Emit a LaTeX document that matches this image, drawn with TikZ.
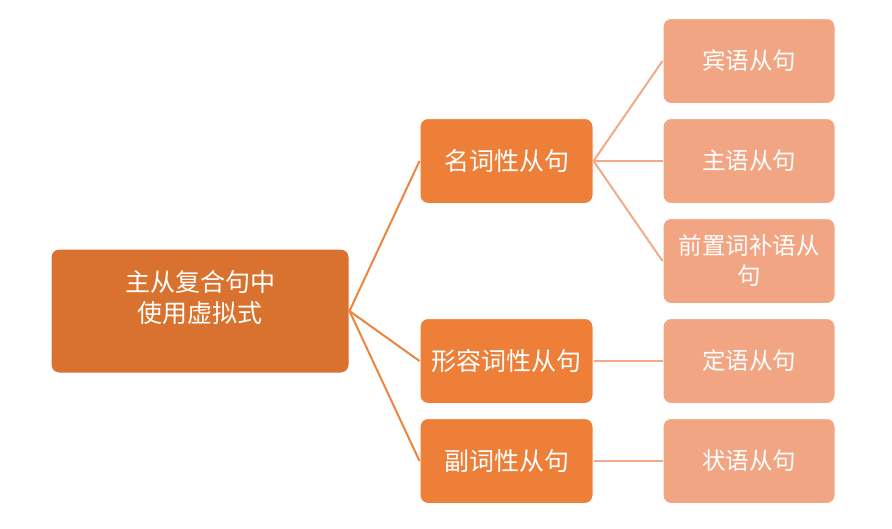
\documentclass[tikz,border=0pt]{standalone}
\usepackage{fontspec}
\newfontfamily\cjk{Noto Sans CJK SC}
\definecolor{rootc}{HTML}{D8722E}
\definecolor{midc}{HTML}{EE7F38}
\definecolor{leafc}{HTML}{F2A583}
\definecolor{lineA}{HTML}{EE8442}
\definecolor{lineB}{HTML}{F2AA88}
\begin{document}
\begin{tikzpicture}[x=1pt,y=-1pt,
  box/.style={draw=white, line width=1pt, rounded corners=8pt, text=white, align=center, inner sep=0pt, font=\cjk},
  rootbox/.style={box, fill=rootc, minimum width=298pt, minimum height=124pt},
  midbox/.style={box, fill=midc, minimum width=173pt, minimum height=85pt, font=\cjk\fontsize{25}{30}\selectfont},
  leafbox/.style={box, fill=leafc, minimum width=172pt, minimum height=85pt, font=\cjk\fontsize{23.5}{30}\selectfont},
  linkA/.style={draw=lineA, line width=2pt},
  linkB/.style={draw=lineB, line width=2pt}]
\useasboundingbox (0,0) rectangle (892,528);
\node[rootbox] (root) at (200,311) {};
\node[font=\cjk\fontsize{25}{31}\selectfont, text=white, align=center] (roottext) at (200,298) {主从复合句中\\使用虚拟式};
\node[midbox] (n1) at (506.5,161) {名词性从句};
\node[midbox] (n2) at (506.5,361) {形容词性从句};
\node[midbox] (n3) at (506.5,461) {副词性从句};
\node[leafbox] (l1) at (749,61) {宾语从句};
\node[leafbox] (l2) at (749,161) {主语从句};
\node[leafbox] (l3) at (749,261) {前置词补语从\\句};
\node[leafbox] (l4) at (749,361) {定语从句};
\node[leafbox] (l5) at (749,461) {状语从句};
\path[linkA] (root.east) -- (n1.west);
\path[linkA] (root.east) -- (n2.west);
\path[linkA] (root.east) -- (n3.west);
\path[linkB] (n1.east) -- (l1.west);
\path[linkB] (n1.east) -- (l2.west);
\path[linkB] (n1.east) -- (l3.west);
\path[linkB] (n2.east) -- (l4.west);
\path[linkB] (n3.east) -- (l5.west);
\end{tikzpicture}
\end{document}
